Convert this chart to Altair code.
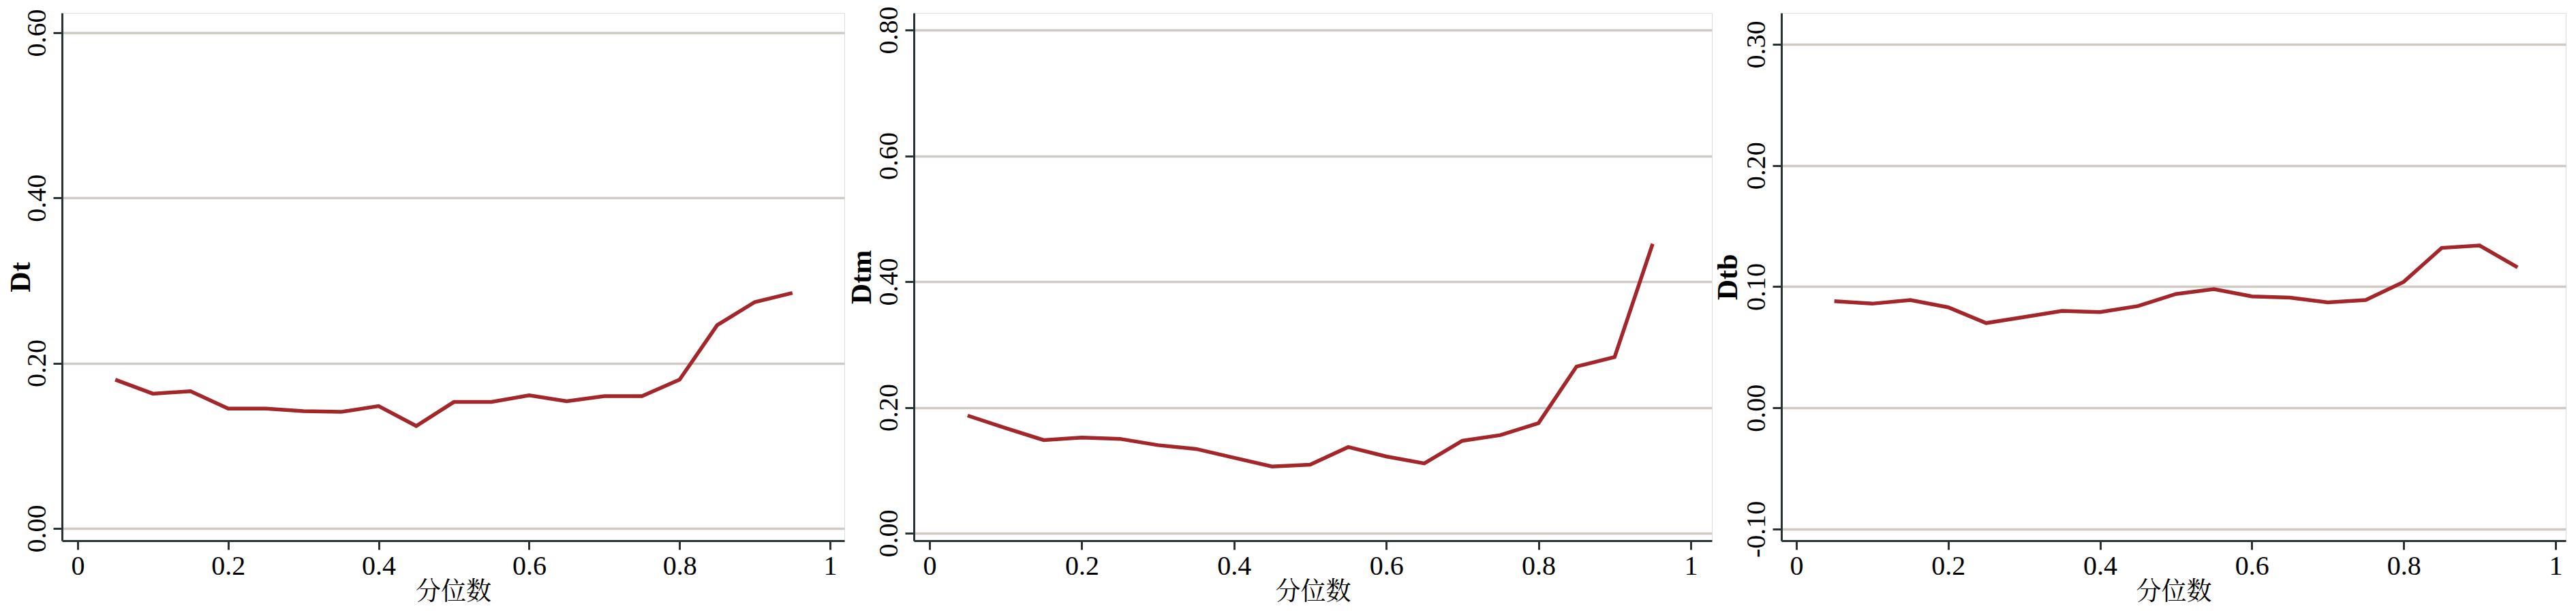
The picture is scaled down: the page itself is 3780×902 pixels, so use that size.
import altair as alt
import pandas as pd

# ---- data ----
quantiles = [0.05, 0.10, 0.15, 0.20, 0.25, 0.30, 0.35, 0.40, 0.45, 0.50,
             0.55, 0.60, 0.65, 0.70, 0.75, 0.80, 0.85, 0.90, 0.95]
dt_values = [0.180, 0.163, 0.166, 0.145, 0.145, 0.142, 0.141, 0.148, 0.124, 0.153,
             0.153, 0.161, 0.154, 0.160, 0.160, 0.180, 0.246, 0.274, 0.285]
dtm_values = [0.187, 0.167, 0.148, 0.152, 0.150, 0.140, 0.134, 0.120, 0.106, 0.109,
              0.137, 0.122, 0.111, 0.147, 0.156, 0.175, 0.265, 0.280, 0.460]
dtb_values = [0.088, 0.086, 0.089, 0.083, 0.070, 0.075, 0.080, 0.079, 0.084, 0.094,
              0.098, 0.092, 0.091, 0.087, 0.089, 0.104, 0.132, 0.134, 0.116]

x_ticks = [0, 0.2, 0.4, 0.6, 0.8, 1]
dt_ticks = [0, 0.2, 0.4, 0.6]
dtm_ticks = [0, 0.2, 0.4, 0.6, 0.8]
dtb_ticks = [-0.1, 0, 0.1, 0.2, 0.3]

x_title = "分位数"

LINE = "#A3262A"
GRID = "#D0CAC4"
AXIS = "#263233"
SERIF = "Liberation Serif"
CJK = "Noto Serif CJK SC, Noto Sans CJK SC, sans-serif"
H = 774


def panel(values, name, yticks, ydomain, xdomain, width, title_x):
    df = pd.DataFrame({"q": quantiles, "v": values})
    x = alt.X(
        "q:Q",
        scale=alt.Scale(domain=xdomain, nice=False, zero=False),
        axis=alt.Axis(
            values=x_ticks, format="~g", title=x_title, grid=False,
            labelFont=SERIF, labelFontSize=40, labelColor="black",
            labelPadding=4, labelFlush=False, labelOverlap=False,
            tickSize=13, tickWidth=3, tickColor=AXIS,
            domainColor=AXIS, domainWidth=3,
            titleFont=CJK, titleFontSize=37, titleFontWeight="normal",
            titleColor="black", titlePadding=0,
        ),
    )
    y = alt.Y(
        "v:Q",
        scale=alt.Scale(domain=ydomain, nice=False, zero=False),
        axis=alt.Axis(
            values=yticks,
            labelExpr="(datum.value < 0 ? '-' : '') + format(abs(datum.value), '.2f')",
            title=name, grid=True, gridColor=GRID, gridWidth=3.5,
            labelAngle=-90, labelAlign="center", labelBaseline="bottom",
            labelPadding=4, labelFlush=False, labelOverlap=False,
            labelFont=SERIF, labelFontSize=40, labelColor="black",
            tickSize=13, tickWidth=3, tickColor=AXIS,
            domainColor=AXIS, domainWidth=3,
            titleFont=SERIF, titleFontSize=42, titleFontWeight="bold",
            titleColor="black", titleX=title_x, titleBaseline="alphabetic",
        ),
    )
    return (
        alt.Chart(df)
        .mark_line(color=LINE, strokeWidth=5.5)
        .encode(x=x, y=y)
        .properties(width=width, height=H)
    )


p1 = panel(dt_values, "Dt", dt_ticks, [-0.0149, 0.6239], [-0.0208, 1.0190], 1148, -48)
p2 = panel(dtm_values, "Dtm", dtm_ticks, [-0.0119, 0.8271], [-0.0206, 1.0278], 1171, -64)
p3 = panel(dtb_values, "Dtb", dtb_ticks, [-0.1096, 0.3259], [-0.0197, 1.0135], 1151, -66)

chart = (
    alt.hconcat(p1, p2, p3, spacing=102, bounds="flush")
    .properties(padding={"left": 0, "top": 0, "right": 0, "bottom": 6})
    .configure_view(stroke=None)
    .configure(background="white")
)

chart.save("out.html", embed_options={"renderer": "svg", "actions": False})
